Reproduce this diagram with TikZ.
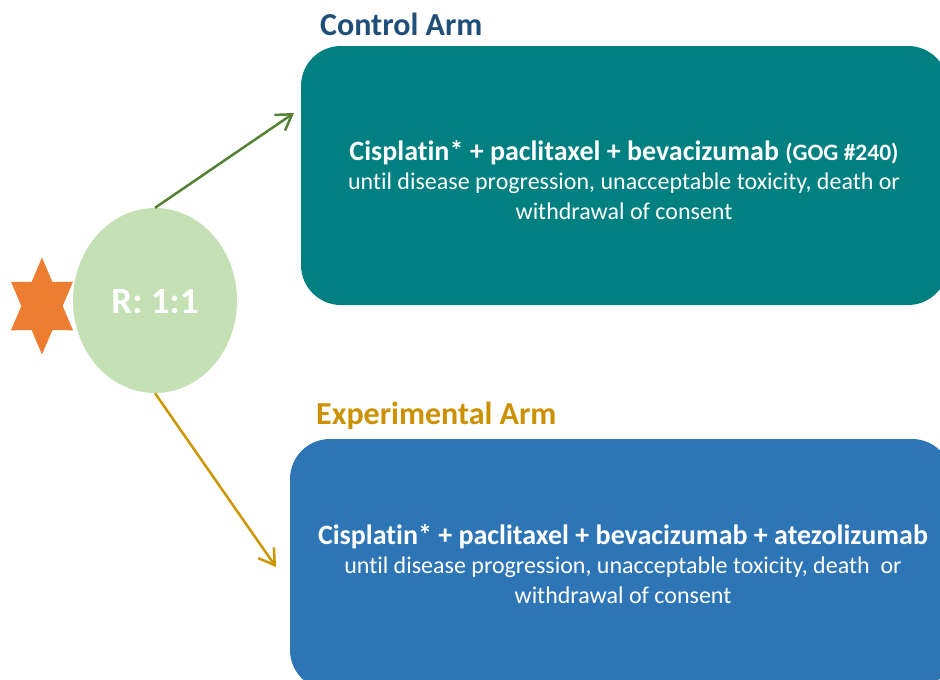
\documentclass[tikz,border=0pt]{standalone}
\usepackage{fontspec}
\setmainfont{Carlito}[Ligatures=NoCommon]
\usetikzlibrary{shapes.geometric,arrows.meta}
\definecolor{teal1}{RGB}{0,128,128}
\definecolor{blue1}{RGB}{46,117,182}
\definecolor{ellg}{RGB}{197,224,180}
\definecolor{orng}{RGB}{237,125,49}
\definecolor{grarrow}{RGB}{84,130,53}
\definecolor{gdarrow}{RGB}{204,150,0}
\definecolor{navy}{RGB}{31,78,121}
\definecolor{gold}{RGB}{204,145,0}
\tikzset{
  boxtext/.style={text=white, align=center, inner sep=0pt, font=\fontsize{24}{29.5}\selectfont},
  armtitle/.style={font=\bfseries\fontsize{32}{36}\selectfont, anchor=west, inner sep=0pt},
  arm/.style={line width=2.5pt, -{Straight Barb[length=15pt,width=19pt,line width=2.5pt]}}
}
\begin{document}
\begin{tikzpicture}[x=1pt,y=-1pt]
\useasboundingbox (0,0) rectangle (940,680);
\clip (0,0) rectangle (940,680);
% star
\begin{scope}[shift={(42,306)}, xscale=35.8, yscale=48.5]
\fill[orng] (90:1) -- (120:0.577) -- (150:1) -- (180:0.577) -- (210:1) -- (240:0.577)
  -- (270:1) -- (300:0.577) -- (330:1) -- (0:0.577) -- (30:1) -- (60:0.577) -- cycle;
\end{scope}
% ellipse
\node[ellipse, fill=ellg, minimum width=164pt, minimum height=185pt, inner sep=0pt] (ell) at (155,300.5) {};
\node[text=white, font=\bfseries\fontsize{37}{40}\selectfont] (rlab) at (155,302) {R: 1:1};
% boxes
\path[fill=teal1, rounded corners=40pt] (301,46) rectangle (948,305);
\node[inner sep=0pt, minimum width=647pt, minimum height=259pt] (ctrl) at (624.5,175.5) {};
\path[fill=blue1, rounded corners=40pt] (290,439) rectangle (952,690);
\node[inner sep=0pt, minimum width=662pt, minimum height=251pt] (expt) at (621,564.5) {};
% titles
\node[armtitle, text=navy] (ctitle) at (320,24) {Control Arm};
\node[armtitle, text=gold] (etitle) at (316,416) {Experimental Arm};
% box texts
\node[boxtext] (ctext) at (624,180) {{\bfseries\fontsize{28}{29.5}\selectfont Cisplatin* + paclitaxel + bevacizumab {\fontsize{23.5}{29.5}\selectfont (GOG \#240)}}\\
until disease progression, unacceptable toxicity, death or\\
withdrawal of consent};
\node[boxtext] (etext) at (623,564) {{\bfseries\fontsize{28}{29.5}\selectfont Cisplatin* + paclitaxel + bevacizumab + atezolizumab}\\
until disease progression, unacceptable toxicity, death\ \ or\\
withdrawal of consent};
% arrows
\coordinate (cend) at (294,113);
\coordinate (eend) at (276,567);
\draw[arm, grarrow] (ell.north) -- (cend);
\draw[arm, gdarrow] (ell.south) -- (eend);
\end{tikzpicture}
\end{document}
